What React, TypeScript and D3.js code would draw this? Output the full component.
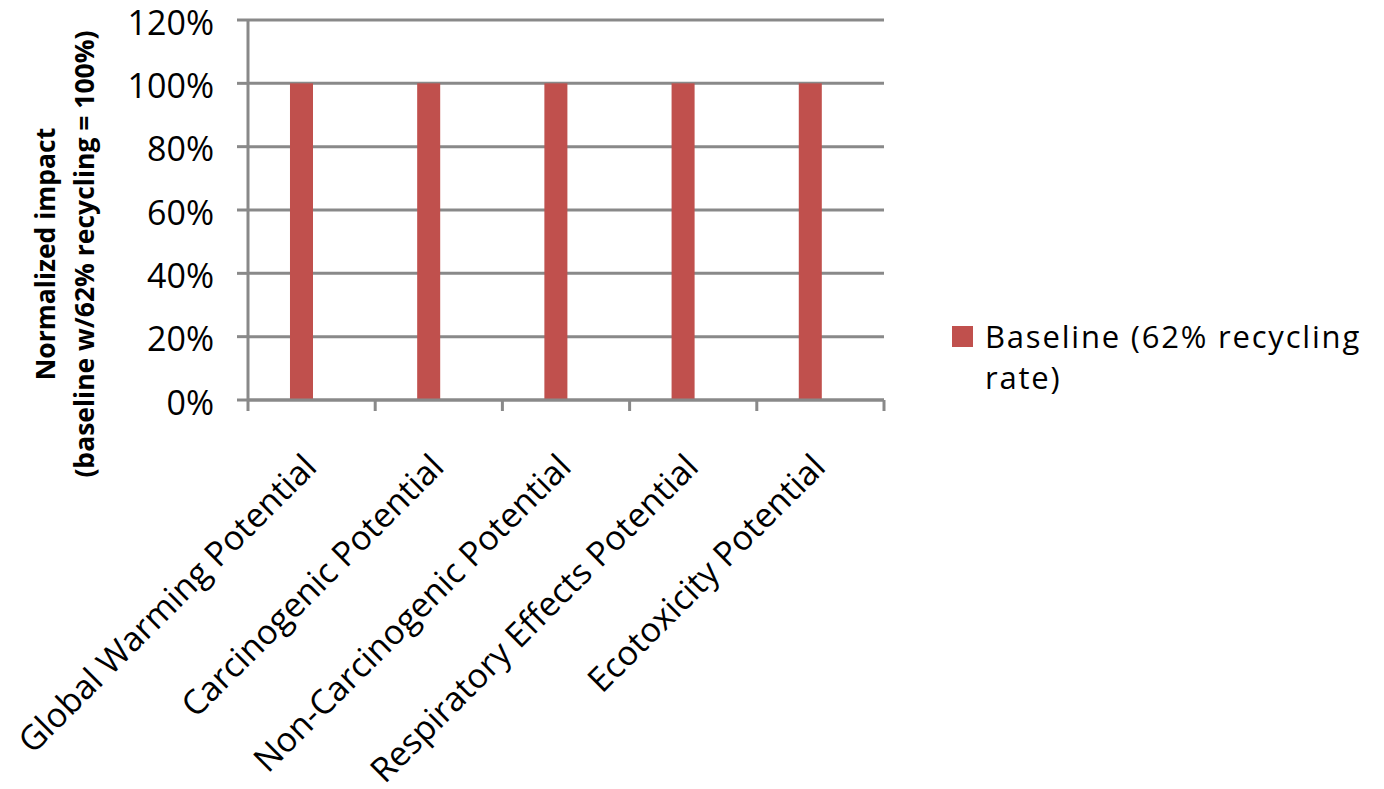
import React from "react";
import * as d3 from "d3";

// Impact categories along the x axis
const categories: string[] = [
  "Global Warming Potential",
  "Carcinogenic Potential",
  "Non-Carcinogenic Potential",
  "Respiratory Effects Potential",
  "Ecotoxicity Potential",
];

// Baseline scenario, normalized so that 62% recycling = 100%
const seriesName = "Baseline (62% recycling rate)";
const baselineValues: number[] = [1.0, 1.0, 1.0, 1.0, 1.0];

// Y axis ticks (fractions, shown as percentages)
const yTicks: number[] = [0, 0.2, 0.4, 0.6, 0.8, 1.0, 1.2];

const W = 1384;
const H = 789;
const plot = { left: 248, right: 884, top: 20, bottom: 400 };

const BAR_COLOR = "#C0504D";
const GRID_COLOR = "#898989";
const FONT = "'Open Sans', 'Liberation Sans', sans-serif";

export default function App() {
  const x = d3
    .scaleBand<string>()
    .domain(categories)
    .range([plot.left, plot.right])
    .padding(0);
  const y = d3.scaleLinear().domain([0, 1.2]).range([plot.bottom, plot.top]);
  const fmt = d3.format(".0%");

  const bw = x.bandwidth();
  const barOffset = 0.33 * bw;
  const barWidth = 0.181 * bw;

  // boundaries between categories for the x tick marks
  const boundaries = [...categories.map((c) => x(c) as number), plot.right];

  return (
    <svg
      width={W}
      height={H}
      style={{ position: "absolute", left: 0, top: 0, background: "#fff" }}
      fontFamily={FONT}
    >
      {/* horizontal gridlines */}
      {yTicks.map((t) => (
        <line
          key={"g" + t}
          x1={plot.left}
          x2={plot.right}
          y1={y(t)}
          y2={y(t)}
          stroke={GRID_COLOR}
          strokeWidth={3}
        />
      ))}

      {/* bars */}
      {categories.map((c, i) => (
        <rect
          key={"b" + c}
          x={(x(c) as number) + barOffset}
          y={y(baselineValues[i])}
          width={barWidth}
          height={y(0) - y(baselineValues[i])}
          fill={BAR_COLOR}
        />
      ))}

      {/* y axis line and ticks */}
      <line
        x1={plot.left}
        x2={plot.left}
        y1={plot.top}
        y2={plot.bottom}
        stroke={GRID_COLOR}
        strokeWidth={3}
      />
      {yTicks.map((t) => (
        <g key={"yt" + t}>
          <line
            x1={plot.left - 11}
            x2={plot.left}
            y1={y(t)}
            y2={y(t)}
            stroke={GRID_COLOR}
            strokeWidth={3}
          />
          <text
            x={214}
            y={y(t) + 14.5}
            textAnchor="end"
            fontSize={34}
            fill="#000"
          >
            {fmt(t)}
          </text>
        </g>
      ))}

      {/* x axis line and ticks */}
      <line
        x1={plot.left}
        x2={plot.right}
        y1={plot.bottom}
        y2={plot.bottom}
        stroke={GRID_COLOR}
        strokeWidth={3}
      />
      {boundaries.map((bx, i) => (
        <line
          key={"xt" + i}
          x1={bx}
          x2={bx}
          y1={plot.bottom}
          y2={plot.bottom + 11}
          stroke={GRID_COLOR}
          strokeWidth={3}
        />
      ))}

      {/* rotated category labels */}
      {categories.map((c) => {
        const cx = (x(c) as number) + bw / 2 + 7;
        const cy = 469;
        return (
          <text
            key={"xl" + c}
            transform={`translate(${cx},${cy}) rotate(-45)`}
            textAnchor="end"
            fontSize={34}
            fill="#000"
          >
            {c}
          </text>
        );
      })}

      {/* y axis title */}
      <g fontWeight="bold" fontSize={26.5} fill="#000" textAnchor="middle">
        <text transform={`translate(55,254) rotate(-90)`}>Normalized impact</text>
        <text transform={`translate(94,254) rotate(-90)`}>
          (baseline w/62% recycling = 100%)
        </text>
      </g>

      {/* legend */}
      <rect x={952} y={326} width={21} height={21} fill={BAR_COLOR} />
      <text x={985} y={348} fontSize={31} letterSpacing={1.8} fill="#000">
        Baseline (62% recycling
      </text>
      <text x={985} y={389} fontSize={31} letterSpacing={1.8} fill="#000">
        rate)
      </text>
    </svg>
  );
}
